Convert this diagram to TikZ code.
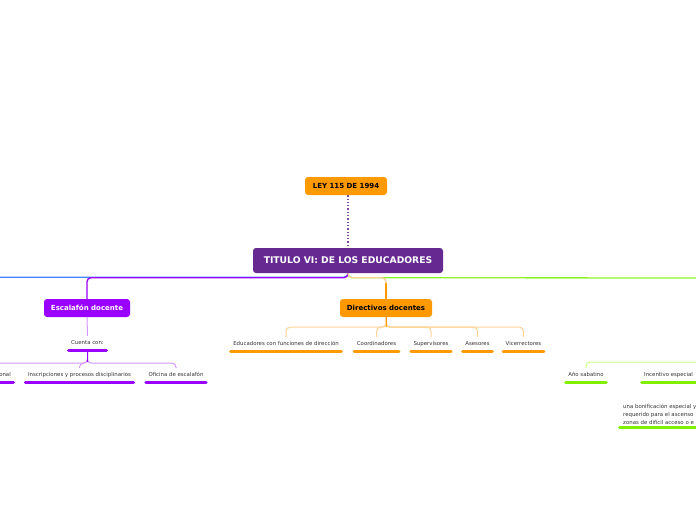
\documentclass[tikz,border=0pt]{standalone}
\usepackage{fontspec}
\setmainfont{DejaVu Sans}
\usetikzlibrary{positioning,calc}
\definecolor{titpurple}{RGB}{102,41,145}
\definecolor{escviolet}{RGB}{153,0,255}
\definecolor{dirorange}{RGB}{255,153,0}
\definecolor{lineblue}{RGB}{64,133,255}
\definecolor{linegreen}{RGB}{140,245,40}
\definecolor{lightgreen}{RGB}{200,255,130}
\definecolor{lightviolet}{RGB}{210,150,255}
\definecolor{lightorange}{RGB}{255,210,150}
\definecolor{ulgreen}{RGB}{128,240,0}
\tikzset{
  main/.style={rounded corners=3pt,fill=titpurple,text=white,
               font=\fontsize{9.2}{10}\selectfont\bfseries,
               minimum width=190pt,minimum height=25pt},
  topic/.style={rounded corners=3pt,minimum height=18pt,inner xsep=4pt,
                font=\fontsize{7}{8}\selectfont\bfseries},
  leaf/.style={font=\fontsize{5.4}{6}\selectfont,text=black!80,
               text height=4pt,text depth=1pt,inner xsep=4pt,inner ysep=4.5pt},
  ul/.style={line width=3pt,line cap=round,shorten >=1.5pt,shorten <=1.5pt,#1},
  conn/.style={line width=1pt,rounded corners=4pt,#1},
}
\begin{document}
\begin{tikzpicture}[x=1pt,y=-1pt]
  \useasboundingbox (0,0) rectangle (696,520);
  \clip (0,0) rectangle (696,520);
  %% Main topics
  \node[topic,fill=dirorange,minimum width=82pt]            (ley)   at (346,186)   {LEY 115 DE 1994};
  \node[main]                                               (tit)   at (348,260.5) {TITULO VI: DE LOS EDUCADORES};
  \node[topic,fill=escviolet,text=white,minimum width=86pt] (esc)   at (87,308)    {Escalafón docente};
  \node[topic,fill=dirorange,minimum width=92pt]            (dir)   at (386,308)   {Directivos docentes};
  %% Escalafon docente
  \node[leaf]                 (cuenta) at (87.5,343) {Cuenta con:};
  \node[leaf,anchor=east]     (junta)  at (15,375)   {onal};
  \node[leaf]                 (insc)   at (79.5,375) {Inscripciones y procesos disciplinarios};
  \node[leaf]                 (ofic)   at (176,375)  {Oficina de escalafón};
  %% Directivos docentes
  \node[leaf]                 (educ)   at (286,344)   {Educadores con funciones de dirección};
  \node[leaf]                 (coord)  at (376.5,344) {Coordinadores};
  \node[leaf]                 (superv) at (431,344)   {Supervisores};
  \node[leaf]                 (ases)   at (477.5,344) {Asesores};
  \node[leaf]                 (vice)   at (523.5,344) {Vicerrectores};
  %% Right branch
  \node[leaf]                 (ano)    at (586,375)   {Año sabatino};
  \node[leaf,anchor=west]     (incent) at (640,375)   {Incentivo especial};
  \node[font=\fontsize{5.4}{8}\selectfont,text=black!80,align=left,
        inner xsep=5pt,inner ysep=2pt,anchor=south west] (bonif) at (618,427)
        {una bonificación especial y\\requerido para el ascenso\\zonas de difícil acceso o e};
  %% Off-page ends
  \coordinate (offL) at (-20,277);
  \coordinate (offR) at (720,278);
  \coordinate (offG) at (720,362);
  \coordinate (offJ) at (-40,368);

  %% Edges
  \draw[titpurple!85!white,line width=1.3pt,dash pattern=on 1.3pt off 2pt](ley.south -| tit.north)--(tit.north);
  \draw[conn=lineblue,line width=1.3pt](tit.south)--++(0,4)-|(offL);
  \draw[conn=linegreen,line width=1.3pt](tit.south)--++(0,4.5)--(offR);
  \draw[conn=escviolet,line width=1.3pt](tit.south)--++(0,4.5)-|(esc.north);
  \draw[conn=lightorange,line width=1.3pt](tit.south)--++(0,4.5)-|(dir.north);
  \draw[conn=dirorange,line width=1.3pt](dir.north)--++(0,-16);
  \draw[conn=lightviolet](esc.south)--(cuenta.north);
  \draw[conn=lightviolet](cuenta.south)--++(0,13)-|(offJ);
  \draw[conn=lightviolet](cuenta.south)--++(0,13)-|(insc.north);
  \draw[conn=lightviolet](cuenta.south)--++(0,13)-|(ofic.north);
  \draw[conn=escviolet](cuenta.south)--++(0,12);
  \draw[conn=lightorange](dir.south)--++(0,10)-|(educ.north);
  \draw[conn=lightorange](dir.south)--++(0,10)-|(coord.north);
  \draw[conn=lightorange](dir.south)--++(0,10)-|(superv.north);
  \draw[conn=lightorange](dir.south)--++(0,10)-|(ases.north);
  \draw[conn=lightorange](dir.south)--++(0,10)-|(vice.north);
  \draw[conn=dirorange](dir.south)--++(0,9.5);
  \draw[conn=lightgreen](offG)-|(ano.north);
  %% Underlines
  \draw[ul=escviolet](cuenta.south west)--(cuenta.south east);
  \draw[ul=escviolet](junta.south west)--(junta.south east);
  \draw[ul=escviolet](insc.south west)--(insc.south east);
  \draw[ul=escviolet](ofic.south west)--(ofic.south east);
  \draw[ul=dirorange](educ.south west)--(educ.south east);
  \draw[ul=dirorange](coord.south west)--(coord.south east);
  \draw[ul=dirorange](superv.south west)--(superv.south east);
  \draw[ul=dirorange](ases.south west)--(ases.south east);
  \draw[ul=dirorange](vice.south west)--(vice.south east);
  \draw[ul=ulgreen](ano.south west)--(ano.south east);
  \draw[ul=ulgreen](incent.south west)--(incent.south east);
  \draw[ul=ulgreen](bonif.south west)--(bonif.south east);
\end{tikzpicture}
\end{document}
